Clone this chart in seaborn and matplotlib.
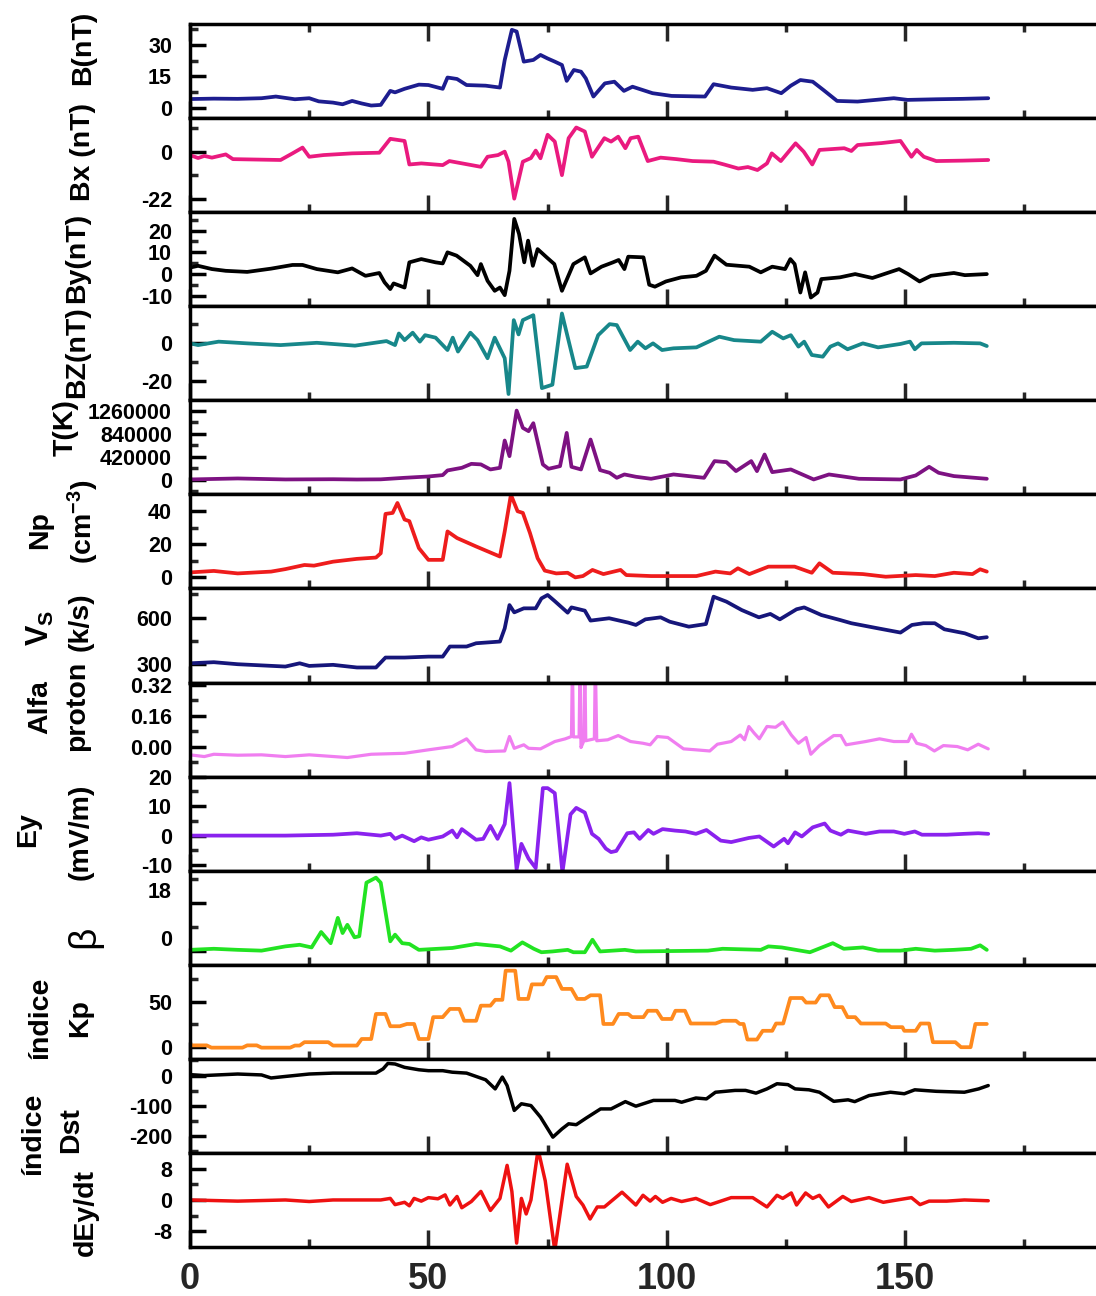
import matplotlib
matplotlib.use("Agg")
import matplotlib.pyplot as plt
import seaborn as sns
from matplotlib import font_manager as fm
from matplotlib.transforms import ScaledTranslation

# ---------------- data ----------------
b_x = [0, 5, 10, 15, 18, 22, 25, 27, 30, 32, 34, 36, 38, 40, 42, 43, 45, 48, 50, 53, 54, 56, 58, 62, 65, 66,
       67.5, 68.5, 70, 72, 73.5, 75, 76.5, 78, 79, 80.5, 82, 83, 84.6, 87, 89, 91, 92.8, 97, 101, 108, 109.8,
       113.5, 118, 121, 124, 126, 128, 130.6, 132.8, 135.7, 140, 147.6, 150.5, 156.5, 162, 167.4]
b_y = [4.1, 4.3, 4.2, 4.5, 5.3, 4, 4.5, 3, 2.4, 1.6, 3.2, 2, 1, 1.3, 8, 7.3, 9, 11, 10.8, 9, 14.4, 13.7, 10.8,
       10.5, 9.6, 22.8, 37.2, 36.4, 22, 22.8, 25.2, 23.5, 22, 20.4, 12.8, 18, 17.2, 14, 5.3, 11.6, 12.4, 8, 10,
       6.9, 5.6, 5.3, 11.2, 9.6, 8.5, 9.3, 6.9, 10.5, 13.2, 12.4, 8.5, 3.2, 2.9, 4.5, 3.7, 4, 4.2, 4.5]

bx_x = [0, 1.7, 3, 4.6, 7.5, 9, 19, 21.5, 23.6, 25, 28, 34, 39.7, 42, 45, 46, 48.5, 53, 54.4, 61, 62.4, 64.6,
        66, 66.8, 68, 69.8, 71.5, 72.5, 73.5, 75, 76.5, 78, 79.4, 81, 82.8, 84.3, 86.9, 88.3, 89.8, 91.3, 92.4,
        94, 96, 98.7, 102, 105.4, 109.8, 112, 115, 117, 119, 121, 122, 123.9, 127, 128.7, 130.5, 132, 137.2,
        138.7, 140, 145, 149, 151.3, 152.4, 153.9, 156.5, 162, 167.4]
bx_y = [-1.6, -3, -2, -2.8, -1.3, -3.5, -3.9, -0.8, 1.9, -2.4, -1.6, -0.8, -0.5, 6, 5, -6, -5.5, -6.3, -4.4,
        -7.1, -2.4, -1.6, 0, -4.7, -22, -4.7, -3, 0.5, -3.1, 7.9, 4.7, -11, 6.3, 11.3, 9.4, -2.4, 6.3, 4.7, 7,
        1.6, 6.3, 7, -4.4, -2.8, -3.5, -4.4, -4.7, -6, -7.9, -7.2, -8.6, -5.5, -0.8, -4.4, 3.9, 0, -6, 0.8,
        1.6, 0.3, 3.1, 4, 5, -2.4, 0.8, -2.4, -4.4, -4.2, -3.9]

by_x = [0, 1.7, 4.6, 7.5, 12, 17, 21.5, 23.6, 26.6, 31, 34, 36.8, 39.7, 40.8, 42, 42.7, 45, 46, 48.5, 51.5, 53,
        54, 55.9, 58.8, 60.3, 61, 62.4, 63.9, 65, 66, 67, 68, 69, 70.1, 70.9, 71.9, 72.9, 74.8, 76.4, 78, 80.4,
        82.8, 84, 86.3, 88.7, 89.9, 91.1, 91.9, 95.1, 96.3, 97.5, 99.8, 103, 106.2, 108.2, 110, 112.5, 117.3,
        119.7, 122.1, 124.8, 125.9, 126.8, 128, 129, 130.2, 131.6, 132.4, 136.3, 139.5, 143.1, 148.7, 150.6,
        153, 155.4, 160.2, 162.5, 167.1]
by_y = [3, 3.8, 2.3, 1.5, 1, 2.5, 4.2, 4.2, 2.3, 0.8, 2.6, -0.8, 0.5, -3.8, -6.9, -4.3, -6.2, 5.4, 6.9, 5.4,
        4.9, 10, 8.5, 3.8, -0.5, 4.6, -3.1, -7.7, -6.2, -9.7, 1.5, 25.4, 18.5, 5.4, 15.4, 3.8, 11.5, 7.7, 4.6,
        -7.7, 4.6, 7.7, 0.3, 3.4, 5.4, 6.5, 2.3, 8, 7.7, -4.9, -5.8, -3.4, -1.5, -0.8, 1.5, 8.5, 4.3, 3.4, 0.8,
        3.4, 2.3, 6.9, 4.6, -8.5, 0.8, -10.8, -8.5, -2.3, -1.5, 0, -1.8, 2.3, 0, -3.4, -0.8, 0.5, -0.5, 0]

bz_x = [0, 1.7, 6, 12, 19, 26.6, 34.6, 41.2, 43, 43.8, 45, 46.7, 48.2, 49.3, 51.5, 54, 55.1, 56.2, 58.8, 60.3,
        62.4, 63.9, 66, 66.8, 67.9, 68.9, 69.8, 72, 73.8, 76, 78, 80.8, 83.2, 85.6, 88, 89.5, 92.3, 93.9, 95.5,
        97.1, 99, 101.4, 106.2, 111, 114.1, 119.7, 122.1, 124.4, 126, 127.6, 128.8, 130.4, 132.7, 134.3, 135.9,
        137.9, 141.1, 144.3, 149, 151, 152, 153.4, 160.2, 165.7, 167.1]
bz_y = [0, -0.9, 0.9, 0, -0.9, 0.3, -1.2, 1.2, -0.9, 5.2, 1.7, 5.6, 0.9, 4.3, 3, -3.5, 3, -4.3, 5.6, 1.7, -7.8,
        3, -7.8, -26.6, 12.2, 4.7, 12.2, 14.8, -23.5, -21.7, 15.7, -13, -12.2, 4.3, 10.1, 9.6, -3.5, 0.9, -2.6,
        0, -3.5, -2.6, -2.1, 3.5, 1.7, 0.9, 6.1, 2.6, 4.3, -1.7, 0.9, -6.1, -7, -1.7, 0, -3.1, 0, -2.1, -0.3,
        0.9, -3.1, 0, 0.3, 0, -1.4]

t_x = [0, 10, 20, 30, 35, 40, 45, 50, 53, 54, 57, 59, 61, 63, 65, 66, 67, 68.5, 69.8, 71, 72, 74, 75.2, 77.6,
       79, 80, 82, 84, 86, 88, 89.5, 91.1, 93.5, 96.7, 101.4, 107.8, 110, 112.5, 114.5, 117.7, 118.9, 120.5,
       122.1, 126, 130.8, 134, 140.3, 149, 152.2, 155, 157, 160.2, 167.1]
t_y = [6000, 24000, 6000, 10000, 5000, 8000, 36000, 60000, 85000, 170000, 218000, 290000, 280000, 188000,
       218000, 715000, 430000, 1260000, 945000, 885000, 1030000, 279000, 200000, 248000, 854000, 236000,
       188000, 733000, 176000, 127000, 36000, 97000, 55000, 18000, 97000, 36000, 340000, 321000, 158000,
       340000, 158000, 460000, 139000, 188000, 6000, 97000, 18000, 6000, 79000, 236000, 127000, 67000, 18000]

np_x = [0, 5, 10, 17, 20, 24, 26, 30, 35, 39, 40, 41, 42.5, 43.5, 45, 46, 48, 50, 53, 54, 56, 60, 65, 66, 67.3,
        68.7, 69.8, 71.3, 72.9, 74.4, 76.8, 79.2, 80.8, 82.4, 84.4, 86.7, 90.3, 91.5, 96.7, 106.2, 110.2, 113.3,
        114.9, 117.3, 121.3, 126.8, 130.4, 132, 134.8, 141.1, 145.9, 152.2, 156.2, 160.2, 164.1, 165.7, 167.1]
np_y = [3, 3.9, 2.4, 3.5, 5, 7.5, 7.1, 9.5, 11.2, 12, 14.6, 38.4, 39, 45, 35, 34, 17.7, 10.6, 10.6, 27.8, 23.8,
        18.7, 12.6, 27.8, 50, 40, 39, 26.8, 11.6, 4.1, 2.4, 2.8, 0, 0.8, 4.5, 2, 4.5, 1.4, 0.8, 0.8, 3.5, 2.4,
        5.5, 2, 6.5, 6.5, 2.8, 8.5, 2.8, 2, 0.4, 1.4, 0.8, 2.8, 2, 4.9, 3.5]

vs_x = [0, 5, 10, 20, 23, 25, 30, 35, 39, 41, 45, 50, 53, 54.5, 58, 60, 65, 66, 67, 68, 70, 72.5, 73.7, 75,
        76.4, 79.2, 80, 82.8, 84, 87.9, 91.9, 93.5, 95.5, 98.7, 100.6, 104.6, 108.2, 109.8, 112.5, 115.7, 119.3,
        121.7, 123.7, 127.2, 128.8, 132.4, 136.3, 138.7, 144.3, 149, 151.4, 153.8, 156.2, 158.2, 162.5, 165.3,
        167.1]
vs_y = [306, 313, 300, 285, 306, 289, 296, 279, 279, 343, 343, 349, 349, 414, 414, 435, 446, 531, 681, 634,
        660, 660, 724, 746, 709, 632, 666, 645, 581, 596, 568, 553, 589, 602, 574, 542, 559, 735, 703, 649, 602,
        624, 589, 654, 666, 617, 585, 564, 531, 504, 553, 564, 564, 525, 499, 467, 474]

al_x = [0, 3, 5, 10, 15, 20, 25, 33, 38, 45, 50, 55, 58, 60, 62, 66, 67, 68, 70, 71, 73.5, 76.5, 78.7, 80.0,
        80.2, 80.4, 81.6, 81.8, 82.0, 82.6, 82.8, 83.0, 84.8, 85.0, 85.3, 87.6, 89.8, 92.4, 95, 96.5, 98, 100.2,
        103.5, 106.1, 109, 110.6, 113.5, 115.4, 116.3, 117.2, 118.3, 119.4, 121, 122.8, 124.3, 126.1, 127.6,
        129.2, 130.2, 132, 135, 136.5, 137.6, 141.7, 144.6, 147.6, 150.6, 151.3, 152.4, 154.3, 156.1, 158,
        160.9, 163.1, 165.3, 167.4]
al_y = [-0.043, -0.052, -0.04, -0.045, -0.043, -0.052, -0.043, -0.057, -0.04, -0.035, -0.017, 0, 0.04,
        -0.017, -0.026, -0.023, 0.052, -0.009, 0.009, -0.009, -0.012, 0.026, 0.04, 0.052, 0.45, 0.05, 0.05,
        0.45, -0.005, 0.03, 0.45, 0.03, 0.04, 0.45, 0.03, 0.035, 0.057, 0.026, 0.017, 0.009, 0.052, 0.047,
        -0.012, -0.017, -0.023, 0.012, 0.026, 0.06, 0.035, 0.104, 0.07, 0.04, 0.104, 0.1, 0.127, 0.06, 0.017,
        0.047, -0.04, 0.005, 0.057, 0.057, 0.009, 0.026, 0.04, 0.026, 0.026, 0.064, 0.017, 0.005, -0.023,
        0.005, 0, -0.017, 0.012, -0.012]

ey_x = [0, 10, 20, 30, 35, 40, 42, 43, 44.5, 47, 48.5, 50, 53, 55, 56, 57, 60, 61.5, 63, 64.5, 66, 67, 68.5,
        69.5, 71, 72.5, 74, 75, 76.5, 78.1, 79.8, 81, 82.8, 84.3, 85.7, 87.2, 88.3, 89.4, 91.7, 93.1, 94.3, 96.1,
        97.2, 99.1, 101.7, 103.9, 106.1, 108.3, 111.3, 113.5, 117.2, 119.4, 122.4, 124.6, 125.4, 126.9, 128.3,
        130.6, 133.1, 134.3, 136.5, 138, 141.7, 144.6, 147.6, 149.8, 152, 153.5, 158.7, 162.4, 165.3, 167.4]
ey_y = [0, 0, 0, 0.3, 0.8, 0, 0.6, -1.1, 0, -1.9, -0.6, -1.4, -0.3, 1.7, -0.6, 2.2, -1.4, -1.1, 3.3, -1.1,
        3.9, 17.8, -11.5, -2.8, -7.8, -11, 16.1, 16.1, 14.4, -12.5, 7.2, 9.4, 7.8, 0.6, -1.1, -4.4, -5.6, -5.2,
        0.8, 1.1, -1.1, 1.9, 0.6, 2.2, 1.7, 1.4, 0.6, 1.9, -1.7, -2.2, -0.8, -0.3, -3.7, -1.1, -2.6, 1.1, -0.3,
        2.8, 4.1, 1.7, 0.3, 1.7, 0.6, 1.4, 1.4, 0.6, 1.4, 0.3, 0.3, 0.6, 0.8, 0.6]

beta_x = [0, 5, 10, 15, 20, 23, 25.5, 27.5, 29.5, 31, 32, 33, 34.5, 35.5, 37, 39, 40, 42, 43, 44.5, 46, 48, 55,
          60, 65, 67.3, 69.7, 72.1, 73.7, 76, 79.2, 80.4, 82.8, 84.4, 86, 91.2, 93.5, 108.6, 111.7, 119.7, 121.3,
          124.1, 130, 134.8, 137.1, 141.1, 144.3, 149, 152.2, 156.2, 160.2, 163.8, 165.7, 167.1]
beta_y = [0.6, 1, 0.6, 0.3, 1.9, 2.5, 1.5, 7.3, 3.1, 12.6, 6.9, 10, 5.3, 5.7, 25.8, 27.7, 25.8, 3.8, 6.3, 3.1,
          2.8, 0.6, 1.3, 2.8, 1.9, 0.3, 3.4, 1, -0.3, 0, 0.6, -0.3, -0.3, 4.4, 0, 0.6, 0, 0.3, 1, 0.6, 1.9, 1.5,
          -0.3, 3.1, 1, 1.5, 0.3, 0.3, 1, 0.3, 0.6, 1, 2.3, 0.6]

kp_x = [0, 3.5, 4.5, 11, 12, 14, 15, 21, 22, 23, 24, 29, 30, 35, 36, 38, 39, 41, 42, 44, 45.5, 47, 48, 50, 51,
        53, 54.5, 56.5, 57.5, 60, 61, 63, 64, 65.5, 66.2, 68.2, 68.9, 70.9, 71.7, 74, 74.8, 76.8, 78, 80, 81.2,
        82.8, 84, 86, 86.7, 88.7, 89.9, 91.9, 92.7, 95.1, 96, 97.9, 99, 101, 101.8, 103.8, 105, 110.2, 111.7,
        114.5, 115.3, 116.1, 116.9, 118.9, 120.1, 122.1, 122.9, 124.4, 125.9, 128.4, 129.2, 131.2, 132.2, 134,
        135.2, 136.8, 137.9, 139.5, 140.7, 145.9, 147, 149.4, 149.8, 152.2, 153.2, 155, 155.8, 160.5, 161.7,
        163.7, 164.7, 167.1]
kp_y = [2, 2, -0.5, -0.5, 2, 2, -0.5, -0.5, 1.8, 1.8, 5.5, 5.5, 1.8, 1.8, 9, 9, 36.5, 36.5, 23, 23, 25.5, 25.5,
        9, 9, 33, 33, 42, 42, 29, 29, 45.6, 45.6, 52, 52, 84, 84, 53, 53, 69, 69, 77, 77, 64, 64, 53, 53, 57, 57,
        25.5, 25.5, 36.5, 36.5, 33, 33, 40, 40, 31, 31, 40, 40, 26, 26, 29, 29, 25.5, 25.5, 8.4, 8.4, 18, 18,
        26, 26, 54, 54, 49, 49, 57, 57, 44, 44, 33, 33, 26, 26, 22, 22, 18, 18, 26, 26, 5.5, 5.5, 0, 0, 25.5,
        25.5]

dst_x = [0, 3, 10, 15, 17, 20, 25, 30, 35, 39, 40.5, 41.5, 43, 45, 48, 50, 53, 55, 58, 62, 64, 65.5, 66.5, 68,
         69.5, 71.5, 73.5, 76.1, 78, 79.4, 81, 83.1, 86.1, 88.3, 91.3, 93.5, 97.2, 101.7, 103.1, 106.1, 108.3,
         110.2, 114.3, 116.5, 118.7, 121, 123.1, 125.4, 126.9, 129.8, 132, 135, 138, 139.4, 142.4, 146.9, 149.8,
         152, 156.5, 162.4, 165.4, 167.4]
dst_y = [3, 0, 5, 2, -8, -3, 5, 8, 8, 8, 22, 40, 38, 27, 19, 16, 16, 11, 8, -14, -44, -5, -33, -115, -93, -99,
         -137, -203, -176, -159, -162, -140, -110, -110, -86, -101, -82, -82, -88, -74, -77, -55, -49, -49, -58,
         -44, -27, -30, -44, -47, -55, -85, -80, -86, -66, -55, -60, -47, -52, -55, -44, -33]

dey_x = [0, 10, 20, 25, 30, 40, 42, 43, 45, 46, 47, 48.5, 50, 52, 53.5, 54.5, 56, 57, 59, 61, 63, 65, 66.5,
         67.5, 68.5, 69.5, 70.5, 71.5, 73, 74.5, 76.5, 79.1, 81, 82.4, 83.9, 85.4, 86.9, 90.6, 93.5, 95, 96.5,
         97.6, 99.1, 100.9, 103.1, 106.1, 109.1, 113.5, 118, 121, 123.1, 124.3, 126.1, 127.2, 129.1, 130.6, 132,
         133.9, 136.9, 138.7, 142.4, 145.4, 148.3, 151.3, 153.1, 155, 158.7, 162.4, 167.4]
dey_y = [0, -0.3, 0, -0.4, 0, 0, 0.4, -1.2, -0.6, -1.5, 0.4, -0.3, 0.6, 0.3, 1.3, -1.3, 0.9, -2, -0.4, 2.2,
         -2.7, 0.4, 8.9, 2.2, -11.1, 0.4, -3.6, 0, 13, 4.9, -13, 9.2, 0.9, -1.3, -4.9, -1.8, -1.8, 2, -1.3, 1.2,
         -0.3, 0.9, -0.6, 0.4, -0.4, 0.4, -1.2, 0.6, 0.6, -1.8, 1.2, 0.4, 1.8, -1.3, 1.8, 0.4, 1.2, -1.8, 0.9,
         -0.4, 0.6, -0.6, 0, 0.6, -1.2, -0.3, -0.3, 0, -0.2]

x_ticks = [0, 50, 100, 150]
x_tick_labels = ["0", "50", "100", "150"]
x_minor = [25, 75, 125, 175]

# (x, y, color, ylim, major ticks, major labels, minor ticks, linewidth)
panels = [
    (b_x, b_y, "#1d1d8f", (-5, 40), [0, 15, 30], ["0", "15", "30"], [7.5, 22.5, 37.5], 2.7),
    (bx_x, bx_y, "#ea1a7f", (-28.3, 15.7), [-22, 0], ["-22", "0"], [-11, 11], 2.7),
    (by_x, by_y, "#000000", (-14.8, 28.5), [-10, 0, 10, 20], ["-10", "0", "10", "20"], [-5, 5, 15, 25], 2.7),
    (bz_x, bz_y, "#17878a", (-29.9, 19.5), [-20, 0], ["-20", "0"], [-10, 10], 2.7),
    (t_x, t_y, "#7d1282", (-266000, 1447000), [0, 420000, 840000, 1260000],
     ["0", "420000", "840000", "1260000"], [-210000, 210000, 630000, 1050000], 2.7),
    (np_x, np_y, "#ee1c1c", (-6.7, 50.2), [0, 20, 40], ["0", "20", "40"], [10, 30], 2.7),
    (vs_x, vs_y, "#16167a", (182, 788), [300, 600], ["300", "600"], [450, 750], 2.7),
    (al_x, al_y, "#f07ef0", (-0.156, 0.332), [0, 0.16, 0.32], ["0.00", "0.16", "0.32"], [-0.08, 0.08, 0.24], 2.3),
    (ey_x, ey_y, "#8a22ee", (-11.9, 20), [-10, 0, 10, 20], ["-10", "0", "10", "20"], [-5, 5, 15], 2.7),
    (beta_x, beta_y, "#22e322", (-5, 30.3), [0, 18], ["0", "18"], [9, 27], 2.7),
    (kp_x, kp_y, "#ff8a1e", (-12.8, 90.5), [0, 50], ["0", "50"], [25, 75], 2.7),
    (dst_x, dst_y, "#000000", (-255, 55), [-200, -100, 0], ["-200", "-100", "0"], [-250, -150, -50, 50], 2.5),
    (dey_x, dey_y, "#ee1111", (-12.1, 12.1), [-8, 0, 8], ["-8", "0", "8"], [-4, 4], 2.5),
]

# (text, x pixel, y pixel, size, weight)
side_labels = [
    ("B(nT)", 83, 48, 20.5, "bold"),
    ("Bx (nT)", 83, 152, 20.5, "bold"),
    ("By(nT)", 77, 258, 20.5, "bold"),
    ("BZ(nT)", 77, 352, 20.5, "bold"),
    ("T(K)", 66, 428, 20.5, "bold"),
    ("Np", 40, 530, 20.5, "bold"),
    ("(cm$^{-3}$)", 83, 522, 20.5, "bold"),
    ("V$_S$", 40, 628, 22, "bold"),
    ("(k/s)", 81, 622, 20.5, "bold"),
    ("Alfa", 40, 707, 20.5, "bold"),
    ("proton", 77, 706, 20.5, "bold"),
    ("Ey", 28, 830, 20.5, "bold"),
    ("(mV/m)", 81, 832, 20.5, "bold"),
    ("β", 84, 937, 28, "normal"),
    ("índice", 40, 1018, 20.5, "bold"),
    ("Kp", 80, 1018, 20.5, "bold"),
    ("índice", 33, 1134, 20.5, "bold"),
    ("Dst", 71, 1130, 20.5, "bold"),
    ("dEy/dt", 86, 1213, 20.5, "bold"),
]

# ---------------- styling ----------------
sns.set_style("white")
plt.rcParams["font.family"] = ["Liberation Sans", "DejaVu Sans"]
plt.rcParams["mathtext.default"] = "regular"
names = {f.name for f in fm.fontManager.ttflist}
narrow = "Liberation Sans Narrow" in names
tick_family = ["Liberation Sans Narrow", "DejaVu Sans"] if narrow else ["Liberation Sans", "DejaVu Sans"]
ytick_size = 18 if narrow else 15.5
xtick_size = 31 if narrow else 26

W, H = 1096, 1296
fig = plt.figure(figsize=(W / 100, H / 100), dpi=100)
axes = fig.subplots(len(panels), 1, sharex=True,
                    gridspec_kw=dict(left=190 / W, right=1.0, top=1 - 24 / H, bottom=1 - 1247 / H, hspace=0))

LW = 2.5
for i, (ax, (xs, ys, col, ylim, major, mlabels, minor, lw)) in enumerate(zip(axes, panels)):
    sns.lineplot(x=xs, y=ys, ax=ax, color=col, linewidth=lw, estimator=None, sort=False, legend=False)
    ax.set_xlabel("")
    ax.set_ylabel("")
    ax.set_xlim(0, 190)
    ax.set_ylim(*ylim)
    ax.set_yticks(major, labels=mlabels, fontsize=ytick_size, fontweight="bold", family=tick_family)
    ax.set_yticks(minor, minor=True)
    ax.set_xticks(x_ticks)
    ax.set_xticks(x_minor, minor=True)
    for side in ("left", "top", "bottom"):
        ax.spines[side].set_linewidth(LW)
        ax.spines[side].set_color("black")
    ax.spines["right"].set_visible(False)
    ax.tick_params(axis="y", which="major", direction="in", length=11.5, width=LW, pad=13,
                   left=True, right=False, colors="black")
    ax.tick_params(axis="y", which="minor", direction="in", length=6, width=LW, left=True, right=False)
    ax.tick_params(axis="x", which="major", direction="in", length=12, width=LW,
                   top=(i == 0), bottom=True, labelbottom=(i == len(panels) - 1))
    ax.tick_params(axis="x", which="minor", direction="in", length=6, width=LW,
                   top=(i == 0), bottom=True)

# beta panel: labels sit half a step above their ticks in the reference
for lbl in axes[9].get_yticklabels():
    lbl.set_transform(lbl.get_transform() + ScaledTranslation(0, 0.13, fig.dpi_scale_trans))

axes[-1].set_xticks(x_ticks, labels=x_tick_labels, fontsize=xtick_size, fontweight="bold", family=tick_family)
axes[-1].tick_params(axis="x", which="major", pad=11)

for txt, px, py, size, weight in side_labels:
    fig.text(px / W, 1 - py / H, txt, rotation=90, ha="center", va="center",
             fontsize=size, fontweight=weight, color="black")

fig.savefig("out.png", dpi=100)
